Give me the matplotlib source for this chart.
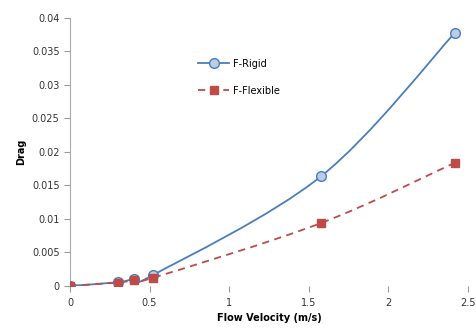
import numpy as np
import matplotlib
matplotlib.use("Agg")
import matplotlib.pyplot as plt
from matplotlib.path import Path
from matplotlib.patches import PathPatch

velocity = [0.0, 0.30, 0.40, 0.52, 1.58, 2.42]
rigid = [0.0, 0.00055, 0.00105, 0.0016, 0.0164, 0.0378]
flexible = [0.0, 0.0005, 0.00085, 0.0012, 0.0094, 0.0184]
xticks = [0, 0.5, 1, 1.5, 2, 2.5]
xticklabels = ["0", "0.5", "1", "1.5", "2", "2.5"]
yticks = [0, 0.005, 0.01, 0.015, 0.02, 0.025, 0.03, 0.035, 0.04]
yticklabels = ["0", "0.005", "0.01", "0.015", "0.02", "0.025", "0.03", "0.035", "0.04"]

plt.rcParams['font.family'] = ['DejaVu Sans']

def smooth_path(x, y, t=0.5 / 3):
    x = np.asarray(x, float); y = np.asarray(y, float)
    verts = [(x[0], y[0])]
    codes = [Path.MOVETO]
    n = len(x)
    for i in range(n - 1):
        p0 = i - 1 if i > 0 else i
        p3 = i + 2 if i + 2 < n else i + 1
        c1 = (x[i] + (x[i + 1] - x[p0]) * t, y[i] + (y[i + 1] - y[p0]) * t)
        c2 = (x[i + 1] - (x[p3] - x[i]) * t, y[i + 1] - (y[p3] - y[i]) * t)
        verts += [c1, c2, (x[i + 1], y[i + 1])]
        codes += [Path.CURVE4] * 3
    return Path(verts, codes)

fig = plt.figure(figsize=(4.76, 3.29), dpi=100)
ax = fig.add_axes([0.147, 0.131, 0.836, 0.815])

blue = "#4a7ebb"
red = "#be4b48"
ax.add_patch(PathPatch(smooth_path(velocity, rigid), fill=False, edgecolor=blue, lw=1.3, zorder=2))
ax.add_patch(PathPatch(smooth_path(velocity, flexible), fill=False, edgecolor=red, lw=1.3,
                       linestyle=(0, (4, 3)), zorder=2))
ax.plot(velocity, rigid, linestyle='none', marker='o', ms=7, mfc="#b9cde5", mec=blue, mew=1, zorder=3)
ax.plot(velocity, flexible, linestyle='none', marker='s', ms=5.5, mfc=red, mec=red, zorder=4)

# legend proxies
ax.plot([], [], color=blue, lw=1.3, marker='o', ms=7, mfc="#b9cde5", mec=blue, label="F-Rigid")
ax.plot([], [], color=red, lw=1.3, linestyle=(0, (4, 3)), marker='s', ms=5.5, mfc=red, mec=red, label="F-Flexible")
h, l = ax.get_legend_handles_labels()
ax.legend(h, l, loc='upper left', bbox_to_anchor=(0.30, 0.88), frameon=False, fontsize=7,
          handlelength=3.2, labelspacing=1.75, handletextpad=0.4)

ax.set_xlim(0, 2.5)
ax.set_ylim(0, 0.04)
ax.set_xticks(xticks)
ax.set_xticklabels(xticklabels)
ax.set_yticks(yticks)
ax.set_yticklabels(yticklabels)
ax.tick_params(labelsize=7, colors="#999999", labelcolor="#333333", length=4, width=0.8)
ax.tick_params(axis='x', direction='out', pad=5)
for s in ['top', 'right', 'bottom']:
    ax.spines[s].set_visible(False)
ax.spines['left'].set_color("#aaaaaa")
ax.set_xlabel("Flow Velocity (m/s)", fontsize=7, fontweight='bold', labelpad=3)
ax.set_ylabel("Drag", fontsize=7, fontweight='bold', labelpad=4)

fig.savefig("out.png", dpi=100)
